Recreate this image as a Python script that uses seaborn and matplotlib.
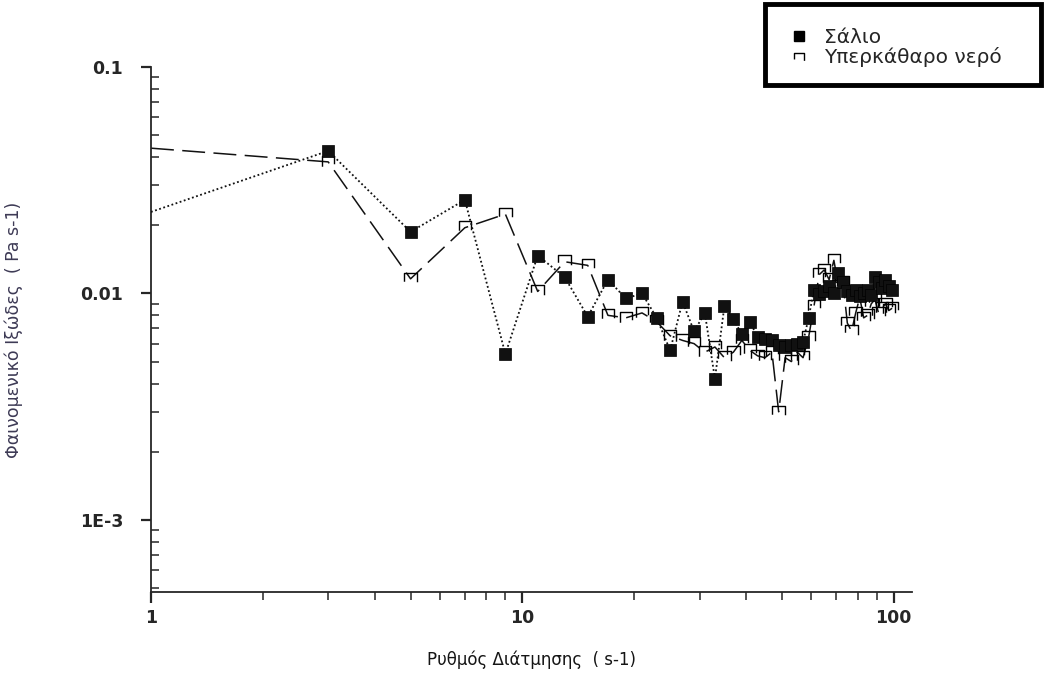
import numpy as np
import pandas as pd
import matplotlib
matplotlib.use('Agg')
import matplotlib.pyplot as plt
from matplotlib.lines import Line2D
from matplotlib.patches import Rectangle
from matplotlib.ticker import LogLocator, NullFormatter
import seaborn as sns

sns.set_style('ticks')
plt.rcParams['font.family'] = ['DejaVu Sans']

# Ρυθμός διάτμησης (s-1)
shear_rate = [1, 3, 5, 7, 9, 11, 13, 15, 17, 19,
              21, 23, 25, 27, 29, 31, 33, 35, 37, 39,
              41, 43, 45, 47, 49, 51, 53, 55, 57, 59,
              61, 63, 65, 67, 69, 71, 73, 75, 77, 79,
              81, 83, 85, 87, 89, 91, 93, 95, 97, 99]

# Σάλιο (filled squares, dotted line)
saliva = [0.0229, 0.0426, 0.0187, 0.0259, 0.0054, 0.0147, 0.0118, 0.0079, 0.0115, 0.0095,
          0.0100, 0.0078, 0.0056, 0.0092, 0.0068, 0.0082, 0.0042, 0.0088, 0.0077, 0.0066,
          0.0075, 0.0064, 0.0063, 0.0062, 0.0059, 0.0058, 0.0059, 0.0060, 0.0061, 0.0078,
          0.0104, 0.0099, 0.0103, 0.0108, 0.0100, 0.0123, 0.0112, 0.0102, 0.0098, 0.0104,
          0.0097, 0.0100, 0.0104, 0.0098, 0.0118, 0.0112, 0.0106, 0.0115, 0.0108, 0.0104]

# Υπερκάθαρο νερό (open squares, dashed line)
water = [0.0438, 0.0381, 0.0116, 0.0195, 0.0224, 0.0102, 0.0138, 0.0133, 0.0080, 0.0078,
         0.0082, 0.0075, 0.0065, 0.0062, 0.0060, 0.0055, 0.0058, 0.0052, 0.0055, 0.0062,
         0.0056, 0.0053, 0.0052, 0.0055, 0.0030, 0.0052, 0.0050, 0.0055, 0.0052, 0.0064,
         0.0088, 0.0121, 0.0127, 0.0115, 0.0140, 0.0108, 0.0112, 0.0074, 0.0068, 0.0082,
         0.0096, 0.0078, 0.0080, 0.0090, 0.0094, 0.0082, 0.0086, 0.0090, 0.0084, 0.0086]

x_ticks = [1, 10, 100]
x_tick_labels = ['1', '10', '100']
y_ticks = [0.1, 0.01, 0.001]
y_tick_labels = ['0.1', '0.01', '1E-3']
series_names = ['Σάλιο', 'Υπερκάθαρο νερό']
x_title = 'Ρυθμός Διάτμησης  ( s-1)'
y_title = 'Φαινομενικό Ιξώδες  ( Pa s-1)'

df = pd.DataFrame({'rate': shear_rate, 'saliva': saliva, 'water': water})

W, H = 1045, 688
fig = plt.figure(figsize=(W / 100, H / 100), dpi=100)
ax = fig.add_axes([151 / W, 1 - 592 / H, 761 / W, 525 / H])
ax.set_xscale('log')
ax.set_yscale('log')

# dashed line for water, dotted line + filled squares for saliva
sns.lineplot(data=df, x='rate', y='water', ax=ax, color='#111111', lw=1.1,
             linestyle=(0, (15, 5.5)), errorbar=None, sort=False)
sns.lineplot(data=df, x='rate', y='saliva', ax=ax, color='#111111', lw=1.3,
             linestyle=(0, (1.0, 1.4)), marker='s', markersize=8.5,
             markeredgecolor='black', markeredgewidth=0.5,
             markevery=slice(1, None), errorbar=None, sort=False, zorder=4)

# open squares with dashed outline (like the original)
a = 9.0
sns.scatterplot(data=df.iloc[1:], x='rate', y='water', ax=ax, marker='s', s=a * a,
                fc='none', ec='black', linewidth=1.0,
                linestyle=(2.7 * a, (2.4 * a, 1.6 * a)), zorder=3)

ax.set_xlim(1, 112)
ax.set_ylim(4.8e-4, 0.1)

ax.set_xticks(x_ticks)
ax.set_xticklabels(x_tick_labels, fontweight='bold', fontsize=12.5)
ax.set_yticks(y_ticks)
ax.set_yticklabels(y_tick_labels, fontweight='bold', fontsize=12.5)
ax.xaxis.set_minor_locator(LogLocator(base=10, subs=np.arange(2, 10) * 1.0, numticks=20))
ax.yaxis.set_minor_locator(LogLocator(base=10, subs=np.arange(2, 10) * 1.0, numticks=20))
ax.xaxis.set_minor_formatter(NullFormatter())
ax.yaxis.set_minor_formatter(NullFormatter())

ax.tick_params(axis='x', which='major', direction='out', length=8, width=1.6, pad=4)
ax.tick_params(axis='x', which='minor', direction='out', length=6, width=1.1)
ax.tick_params(axis='y', which='major', direction='out', length=7, width=1.6, pad=13)
ax.tick_params(axis='y', which='minor', direction='in', length=6, width=1.1)

sns.despine(ax=ax)
for side in ['left', 'bottom']:
    ax.spines[side].set_linewidth(1.3)

ax.set_xlabel(x_title, fontsize=12, color='#151515')
ax.set_ylabel(y_title, fontsize=12.5, color='#3d3a55')
ax.xaxis.set_label_coords(0.5, -0.112)
ax.yaxis.set_label_coords(-0.168, 0.5)

# legend box in the top right corner
fig.add_artist(Rectangle((765 / W, 1 - 85 / H), 276 / W, 81 / H,
                         transform=fig.transFigure, fc='white', ec='black', lw=3.5))
b = 7.0
h_saliva = Line2D([], [], marker='s', ls='none', color='black', ms=b)
h_water = ax.scatter([], [], marker='s', s=b * b, fc='none', ec='black', linewidth=1.0,
                     linestyle=(2.7 * b, (2.4 * b, 1.6 * b)))
fig.legend([h_saliva, h_water], series_names, loc='upper left',
           bbox_to_anchor=(790 / W, 1 - 28 / H), frameon=False, fontsize=14.5,
           handlelength=0.9, handletextpad=0.8, labelspacing=0.0,
           borderpad=0, borderaxespad=0)

fig.savefig('out.png', dpi=100, facecolor='white')
